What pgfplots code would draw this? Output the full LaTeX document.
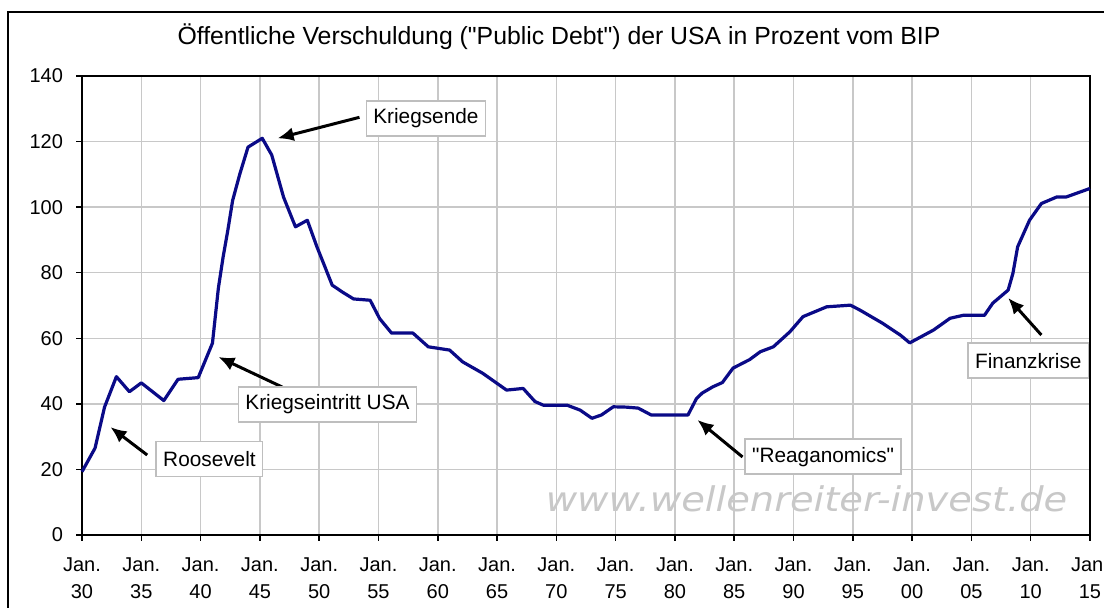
\documentclass[border=0pt]{standalone}
\usepackage{pgfplots}
\pgfplotsset{compat=1.18}
\usetikzlibrary{arrows.meta}
\usepackage{fontspec}
\setmainfont{Liberation Sans}[Ligatures=TeXOff]
\newfontfamily\wmfont{DejaVu Sans}
\definecolor{debtblue}{RGB}{10,10,135}
\definecolor{gridgray}{RGB}{200,200,200}
\definecolor{boxgray}{RGB}{190,190,190}
\definecolor{wmgray}{RGB}{200,200,200}
\begin{document}
\begin{tikzpicture}
\clip (0,0) rectangle (552pt,-304pt);
\fill[white] (0,0) rectangle (552pt,-304pt);
\draw[line width=0.8pt] (4pt,-6pt) rectangle (560pt,-320pt);
\node[font=\fontsize{12.4}{14}\selectfont, anchor=center] at (279.5pt,-18.5pt) {Öffentliche Verschuldung ("Public Debt") der USA in Prozent vom BIP};
\begin{axis}[
  at={(41pt,-267.5pt)}, anchor=south west,
  scale only axis, width=504pt, height=229.5pt,
  xmin=1930, xmax=2015, ymin=0, ymax=140,
  xtick={1930,1935,...,2015},
  xticklabels={{Jan.\\30},{Jan.\\35},{Jan.\\40},{Jan.\\45},{Jan.\\50},{Jan.\\55},{Jan.\\60},{Jan.\\65},{Jan.\\70},{Jan.\\75},{Jan.\\80},{Jan.\\85},{Jan.\\90},{Jan.\\95},{Jan.\\00},{Jan.\\05},{Jan.\\10},{Jan.\\15}},
  ytick={0,20,...,140},
  xticklabel style={align=center, font=\fontsize{10}{13.5}\selectfont, yshift=-5pt},
  yticklabel style={font=\fontsize{10}{12}\selectfont, xshift=-3pt},
  /pgf/number format/assume math mode=true,
  grid=major,
  grid style={draw=gridgray, line width=0.75pt},
  axis line style={line width=0.8pt, black},
  tick style={black, line width=0.75pt},
  tick align=outside, major tick length=3pt, tick pos=left,
  clip=false,
]
\node[font=\wmfont\itshape\fontsize{17}{19}\selectfont, text=wmgray, xscale=1.13] at (axis cs:1991.1,10.9) {www.wellenreiter-invest.de};
\addplot[line width=1.6pt, color=debtblue, line join=round] coordinates {
(1930,19.3) (1931.1,26.5) (1931.9,39) (1932.9,48.3) (1934,43.7) (1935,46.4)
(1936.9,41) (1938.1,47.5) (1939.8,48) (1941,58.5) (1941.5,75.3) (1941.9,84.8)
(1942.3,93) (1942.7,102) (1943.3,110) (1944,118.3) (1945.2,121) (1946,115.9)
(1947,103) (1948,94) (1949,96) (1949.8,88) (1951.1,76.2) (1952,74) (1952.9,72)
(1954.3,71.6) (1955.1,66) (1956.1,61.6) (1957.9,61.6) (1959.2,57.4) (1961,56.4)
(1962.1,52.8) (1963.8,49.3) (1965.8,44.2) (1967.2,44.7) (1968.2,40.7) (1968.9,39.6)
(1970.9,39.6) (1972,38.1) (1973,35.6) (1973.8,36.6) (1974.8,39.1) (1975.9,39)
(1976.9,38.7) (1978,36.6) (1981.1,36.6) (1981.8,41.5) (1982.3,43.3) (1983.2,45.2)
(1984,46.5) (1984.9,50.9) (1986.3,53.5) (1987.2,55.9) (1988.3,57.4) (1989.7,62)
(1990.8,66.6) (1992.8,69.6) (1994.8,70.1) (1995.6,68.6) (1997.5,64.6) (1999,61)
(1999.8,58.6) (2001.8,62.5) (2003.2,66.1) (2004.3,67) (2006.1,67) (2006.8,70.7)
(2008.1,74.7) (2008.5,79.8) (2008.9,87.9) (2009.9,96) (2010.9,101.1) (2012.2,103.1)
(2013,103.1) (2015,105.7)
};
\tikzset{ann/.style={draw=boxgray, line width=0.75pt, fill=white, font=\fontsize{10.4}{12}\selectfont, inner xsep=3.5pt, minimum height=17.5pt},
  arr/.style={line width=1.5pt, -{Latex[length=8pt,width=7pt]}}}
\draw[arr] (axis cs:1953.4,127.4) -- (axis cs:1946.5,121.0);
\node[ann] at (axis cs:1959.0,127.0) {Kriegsende};
\draw[arr] (axis cs:1946.9,45.1) -- (axis cs:1941.5,54.3);
\node[ann] at (axis cs:1950.7,39.8) {Kriegseintritt USA};
\draw[arr] (axis cs:1935.5,24.4) -- (axis cs:1932.4,32.9);
\node[ann] at (axis cs:1940.75,23.2) {Roosevelt};
\draw[arr] (axis cs:1985.7,23.8) -- (axis cs:1981.9,35.1);
\node[ann] at (axis cs:1992.5,23.9) {"Reaganomics"};
\draw[arr] (axis cs:2010.9,61.0) -- (axis cs:2008.1,72.3);
\node[ann] at (axis cs:2009.8,53.2) {Finanzkrise};
\end{axis}
\end{tikzpicture}
\end{document}
